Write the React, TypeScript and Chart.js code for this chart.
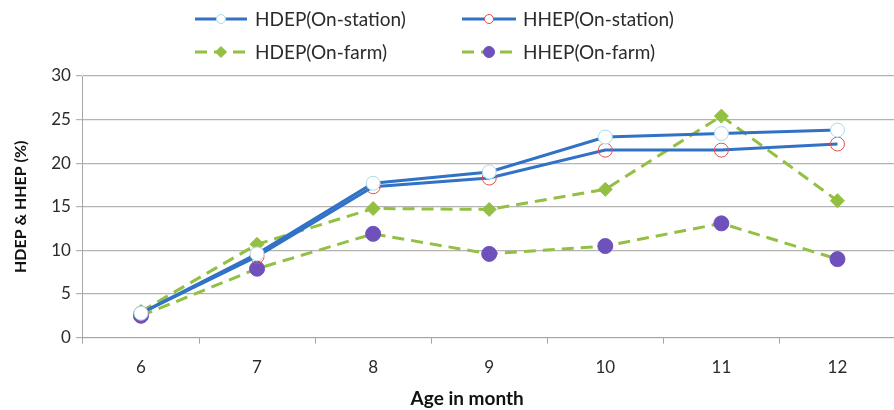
import React, { useEffect, useRef } from "react";
import { Chart, registerables } from "chart.js";

Chart.register(...registerables);

const months = ["6", "7", "8", "9", "10", "11", "12"];
const hdepStation = [2.8, 9.6, 17.7, 19.0, 23.0, 23.4, 23.8];
const hhepStation = [2.8, 9.3, 17.3, 18.3, 21.5, 21.5, 22.2];
const hdepFarm = [3.0, 10.7, 14.8, 14.7, 17.0, 25.4, 15.7];
const hhepFarm = [2.5, 7.9, 11.9, 9.6, 10.5, 13.1, 9.0];

const yTicks = [0, 5, 10, 15, 20, 25, 30];
const yTitle = "HDEP & HHEP (%)";
const xTitle = "Age in month";

const FONT = "Lato";
const BLUE = "#3272c6";
const GREEN = "#93c042";
const PURPLE = "#6e51bb";
const RED = "#e0504a";
const CYAN = "#a9d9ea";

// Two-row legend plus the offset x-axis title, drawn straight onto the canvas
const legendAndTitle = {
  id: "legendAndTitle",
  afterDraw(chart: any) {
    const ctx = chart.ctx as CanvasRenderingContext2D;
    const sets = chart.data.datasets;
    const slots = [
      { x0: 195, x1: 247, tx: 255, y: 19 },
      { x0: 462, x1: 516, tx: 523, y: 19 },
      { x0: 195, x1: 247, tx: 255, y: 52 },
      { x0: 462, x1: 516, tx: 523, y: 52 },
    ];
    sets.forEach((ds: any, i: number) => {
      const s = slots[i];
      ctx.save();
      ctx.strokeStyle = ds.borderColor;
      ctx.lineWidth = 3;
      ctx.setLineDash(ds.borderDash || []);
      ctx.beginPath();
      ctx.moveTo(s.x0, s.y);
      ctx.lineTo(s.x1, s.y);
      ctx.stroke();
      ctx.setLineDash([]);
      const cx = (s.x0 + s.x1) / 2;
      ctx.beginPath();
      if (ds.pointStyle === "rectRot") {
        const r = 5.5;
        ctx.moveTo(cx, s.y - r);
        ctx.lineTo(cx + r, s.y);
        ctx.lineTo(cx, s.y + r);
        ctx.lineTo(cx - r, s.y);
        ctx.closePath();
      } else {
        ctx.arc(cx, s.y, i === 3 ? 5.5 : 4.5, 0, Math.PI * 2);
      }
      ctx.fillStyle = i === 1 ? "#ffffff" : ds.pointBackgroundColor;
      ctx.fill();
      ctx.lineWidth = 1;
      ctx.strokeStyle = ds.pointBorderColor;
      ctx.stroke();
      ctx.fillStyle = "#2b2b2b";
      ctx.font = `19px ${FONT}`;
      ctx.textBaseline = "middle";
      ctx.textAlign = "left";
      ctx.fillText(ds.label, s.tx, s.y + 1);
      ctx.restore();
    });

    const area = chart.chartArea;
    ctx.save();
    ctx.fillStyle = "#111";
    ctx.font = `bold 19px ${FONT}`;
    ctx.textAlign = "center";
    ctx.textBaseline = "middle";
    ctx.fillText(xTitle, (area.left + area.right) / 2 - 22, 399);
    ctx.restore();
  },
};

export default function App() {
  const ref = useRef<HTMLCanvasElement>(null);

  useEffect(() => {
    if (!ref.current) return;
    const chart = new Chart(ref.current, {
      type: "line",
      data: {
        labels: months,
        datasets: [
          {
            label: "HDEP(On-station)",
            data: hdepStation,
            borderColor: BLUE,
            borderWidth: 3,
            pointStyle: "circle",
            pointRadius: 7,
            pointBackgroundColor: "#ffffff",
            pointBorderColor: CYAN,
            pointBorderWidth: 1,
          },
          {
            label: "HHEP(On-station)",
            data: hhepStation,
            borderColor: BLUE,
            borderWidth: 3,
            pointStyle: "circle",
            pointRadius: 7,
            pointBackgroundColor: "rgba(255,255,255,0)",
            pointBorderColor: RED,
            pointBorderWidth: 1,
          },
          {
            label: "HDEP(On-farm)",
            data: hdepFarm,
            borderColor: GREEN,
            borderWidth: 3,
            borderDash: [12, 7],
            pointStyle: "rectRot",
            pointRadius: 7,
            pointBackgroundColor: GREEN,
            pointBorderColor: GREEN,
            pointBorderWidth: 1,
          },
          {
            label: "HHEP(On-farm)",
            data: hhepFarm,
            borderColor: GREEN,
            borderWidth: 3,
            borderDash: [12, 7],
            pointStyle: "circle",
            pointRadius: 7.5,
            pointBackgroundColor: PURPLE,
            pointBorderColor: PURPLE,
            pointBorderWidth: 1,
          },
        ],
      },
      options: {
        animation: false,
        responsive: false,
        maintainAspectRatio: false,
        layout: { padding: { top: 76, left: 11, right: 0, bottom: 18 } },
        plugins: {
          legend: { display: false },
          tooltip: { enabled: false },
        },
        elements: { line: { tension: 0 } },
        scales: {
          x: {
            type: "category",
            offset: true,
            border: { display: true, color: "#a6a6a6", width: 1 },
            grid: {
              offset: true,
              drawOnChartArea: false,
              drawTicks: true,
              tickLength: 6,
              color: "#a6a6a6",
            },
            ticks: {
              color: "#2b2b2b",
              padding: 14,
              font: { family: FONT, size: 17 },
            },
          },
          y: {
            min: 0,
            max: 30,
            afterBuildTicks: (scale: any) => {
              scale.ticks = yTicks.map((v) => ({ value: v }));
            },
            border: { display: true, color: "#a6a6a6", width: 1 },
            grid: {
              color: "#b3b3b3",
              lineWidth: 1.2,
              drawTicks: true,
              tickLength: 7,
            },
            ticks: {
              color: "#2b2b2b",
              padding: 5,
              font: { family: FONT, size: 17 },
            },
            title: {
              display: true,
              text: yTitle,
              color: "#111",
              font: { family: FONT, size: 16, weight: "bold" },
              padding: { top: 0, bottom: 16 },
            },
          },
        },
      },
      plugins: [legendAndTitle],
    });
    return () => chart.destroy();
  }, []);

  return (
    <div
      style={{
        position: "fixed",
        left: 0,
        top: 0,
        width: 894,
        height: 410,
        overflow: "hidden",
        background: "#fff",
      }}
    >
      <canvas ref={ref} width={904} height={410} style={{ display: "block" }} />
    </div>
  );
}
